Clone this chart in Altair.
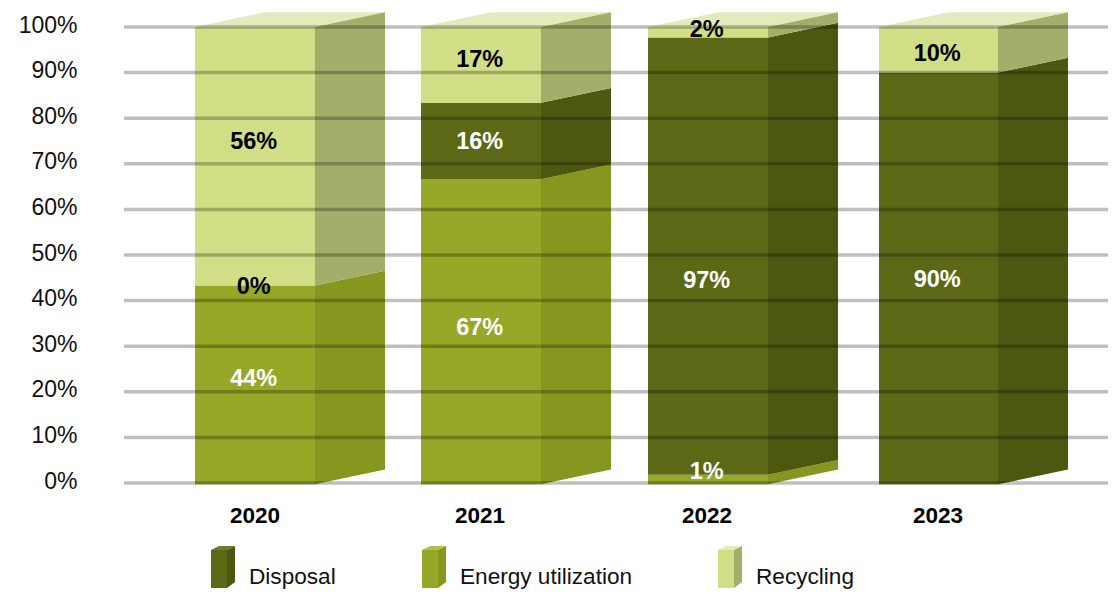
import altair as alt
import pandas as pd

# ---- values
years = ["2020", "2021", "2022", "2023"]
energy = [43.3, 66.6, 1.8, 0.0]
disposal = [0.0, 16.8, 95.9, 90.0]
recycling = [56.7, 16.6, 2.3, 10.0]
shown_energy = ["44%", "67%", "1%", None]
shown_disposal = ["0%", "16%", "97%", "90%"]
shown_recycling = ["56%", "17%", "2%", "10%"]
ticks = list(range(0, 101, 10))
legend_names = ["Disposal", "Energy utilization", "Recycling"]

# ---- layout and style
W, H = 984, 581
LEFT = [195, 421, 648, 879]
BAR_W = [120, 120, 120, 119]
DX = 70
DY = 3.25
PX = 4.56
Y0 = 483
FONT = "Liberation Sans"
C = {
    "energy": ("#97a727", "#87961f", "#b4c04e"),
    "disposal": ("#5d6816", "#4e5710", "#6f7a2a"),
    "recycling": ("#d2de85", "#a3ae6b", "#e3ebbc"),
}
val = lambda py: (Y0 - py) / PX
FLOOR = -0.3

# label anchors, in chart value units
lab_energy = [val(379), val(328), val(472), None]
lab_disposal = [val(287), val(142), val(281), val(280)]
lab_recycling = [val(142), val(60), val(30), val(54)]
ink = {"energy": "white", "disposal": "white", "recycling": "black"}

front, side, top, labels = [], [], [], []
for i, year in enumerate(years):
    base = 0.0
    l, r = LEFT[i], LEFT[i] + BAR_W[i]
    for name, vals, shown, at in (
        ("energy", energy, shown_energy, lab_energy),
        ("disposal", disposal, shown_disposal, lab_disposal),
        ("recycling", recycling, shown_recycling, lab_recycling),
    ):
        v = vals[i]
        t = base + v
        low = base if base > 0 else FLOOR
        if v > 0:
            front.append(dict(x=l, x2=r, y=low, y2=t, fill=C[name][0]))
            key = f"{year}-{name}"
            side.append(dict(k=key, x=r, y=low, y2=t, fill=C[name][1]))
            side.append(dict(k=key, x=r + DX, y=low + DY, y2=t + DY, fill=C[name][1]))
        if shown[i]:
            tone = "black" if year == "2020" and name == "disposal" else ink[name]
            labels.append(dict(x=(l + r) / 2 - 1.3, y=at[i], t=shown[i], c=tone))
        base = t
    top.append(dict(k=year, y=100, x=l, x2=r, fill=C["recycling"][2]))
    top.append(dict(k=year, y=100 + DY, x=l + DX, x2=r + DX, fill=C["recycling"][2]))

# legend swatches
for name, title, lx, tx in zip(
    ("disposal", "energy", "recycling"), legend_names, (211, 422, 718), (249, 460, 756)
):
    fw, sw = 16, 8
    front.append(dict(x=lx, x2=lx + fw, y=val(588), y2=val(550), fill=C[name][0]))
    key = "leg-" + name
    side.append(dict(k=key, x=lx + fw, y=val(588), y2=val(550), fill=C[name][1]))
    side.append(dict(k=key, x=lx + fw + sw, y=val(582), y2=val(546), fill=C[name][1]))
    top.append(dict(k=key, y=val(550), x=lx, x2=lx + fw, fill=C[name][2]))
    top.append(dict(k=key, y=val(546), x=lx + sw, x2=lx + fw + sw, fill=C[name][2]))

x_s = alt.Scale(domain=[124, 124 + W], nice=False, zero=False)
y_s = alt.Scale(domain=[val(8 + H), val(8)], nice=False, zero=False)
y_axis = alt.Axis(
    values=ticks,
    labelExpr="datum.value + '%'",
    grid=False,
    domain=False,
    ticks=False,
    labelPadding=47,
    labelOffset=-2,
    labelFont=FONT,
    labelFontSize=23,
    labelColor="#111111",
    title=None,
)

X = lambda f: alt.X(f, type="quantitative", scale=x_s, axis=None)
Y = lambda f: alt.Y(f, type="quantitative", scale=y_s, axis=y_axis, stack=None)
fill = alt.Color("fill:N", scale=None, legend=None)

axis_layer = (
    alt.Chart(pd.DataFrame({"v": ticks}))
    .mark_rule(strokeWidth=3.5, color="black", opacity=0.25)
    .encode(y=alt.Y("v:Q", scale=y_s, axis=y_axis), x=alt.value(0), x2=alt.value(W))
)
front_layer = (
    alt.Chart(pd.DataFrame(front))
    .mark_bar(strokeWidth=0)
    .encode(x=X("x"), x2="x2:Q", y=Y("y"), y2="y2:Q", color=fill)
)
side_layer = (
    alt.Chart(pd.DataFrame(side))
    .mark_area(interpolate="linear")
    .encode(x=X("x"), y=Y("y"), y2="y2:Q", color=fill, detail="k:N")
)
top_layer = (
    alt.Chart(pd.DataFrame(top))
    .mark_area(interpolate="linear", orient="horizontal")
    .encode(
        y=alt.Y("y", type="quantitative", scale=y_s, axis=y_axis),
        x=alt.X("x", type="quantitative", scale=x_s, axis=None, stack=None),
        x2="x2:Q",
        color=fill,
        detail="k:N",
    )
)
label_layer = (
    alt.Chart(pd.DataFrame(labels))
    .mark_text(font=FONT, fontSize=23.5, fontWeight="bold", baseline="middle")
    .encode(x=X("x"), y=Y("y"), text="t:N", color=alt.Color("c:N", scale=None, legend=None))
)
year_layer = (
    alt.Chart(pd.DataFrame({"x": [255, 480, 707, 938], "y": [val(516)] * 4, "t": years}))
    .mark_text(font=FONT, fontSize=22.5, fontWeight="bold", baseline="middle", color="black")
    .encode(x=X("x"), y=Y("y"), text="t:N")
)
legend_layer = (
    alt.Chart(pd.DataFrame({"x": [249, 460, 756], "y": [val(584)] * 3, "t": legend_names}))
    .mark_text(font=FONT, fontSize=22.6, align="left", baseline="alphabetic", color="#111111")
    .encode(x=X("x"), y=Y("y"), text="t:N")
)

chart = (
    alt.layer(top_layer, side_layer, front_layer, axis_layer, label_layer, year_layer, legend_layer)
    .properties(
        width=W,
        height=H,
        autosize=alt.AutoSizeParams(type="none"),
        padding={"left": 116, "top": 0, "right": 0, "bottom": 0},
    )
    .configure_view(stroke=None)
)
chart.save("out.html", embed_options={"renderer": "svg", "actions": False})
